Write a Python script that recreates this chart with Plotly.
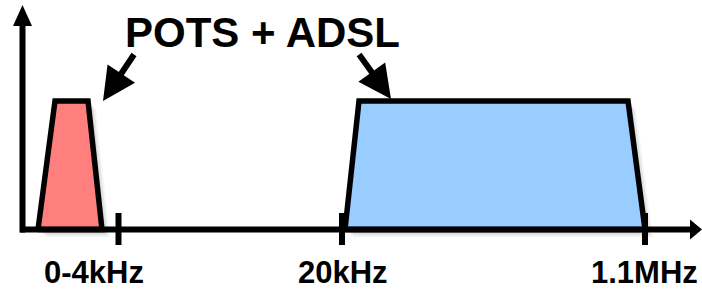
import plotly.graph_objects as go

W, H = 702, 291

# ---- data (diagram units: x in px-like frequency scale, y = height above canvas bottom)
band_names = ["POTS", "ADSL"]
band_bottom_lo = [38, 345]
band_bottom_hi = [102, 645]
band_top_lo = [55, 359]
band_top_hi = [88, 628]
band_colors = ["#FF7F7F", "#99CCFF"]
band_level = 190          # top of the bands
axis_level = 61.5         # frequency axis height

tick_positions = [118.5, 342, 645]
tick_labels = ["0-4kHz", "20kHz", "1.1MHz"]
label_positions = [94, 343, 644]

title_text = "POTS + ADSL"
pointer_tail = [(135, 238), (358, 238)]
pointer_head = [(103, 190), (391, 192)]

fig = go.Figure()

# soft shadows
for off, a in [(8, 0.04), (6, 0.06), (4, 0.08), (2, 0.08)]:
    for i in range(len(band_names)):
        xs = [band_bottom_lo[i] + off, band_top_lo[i] + off, band_top_hi[i] + off,
              band_bottom_hi[i] + off, band_bottom_lo[i] + off]
        ys = [axis_level - off, band_level - off, band_level - off,
              axis_level - off, axis_level - off]
        fig.add_trace(go.Scatter(x=xs, y=ys, mode="lines", fill="toself",
                                 fillcolor=f"rgba(0,0,0,{a})", line=dict(width=0),
                                 hoverinfo="skip", showlegend=False))

# bands
for i, name in enumerate(band_names):
    xs = [band_bottom_lo[i], band_top_lo[i], band_top_hi[i], band_bottom_hi[i], band_bottom_lo[i]]
    ys = [axis_level, band_level, band_level, axis_level, axis_level]
    fig.add_trace(go.Scatter(x=xs, y=ys, mode="lines", fill="toself",
                             fillcolor=band_colors[i], line=dict(color="black", width=5.5),
                             name=name, hoverinfo="skip", showlegend=False))

shapes = []
# axes
shapes.append(dict(type="line", x0=22.5, x1=22.5, y0=axis_level - 3, y1=267,
                   xref="x", yref="y", line=dict(color="black", width=6)))
shapes.append(dict(type="line", x0=20, x1=692, y0=axis_level, y1=axis_level,
                   xref="x", yref="y", line=dict(color="black", width=6)))
# arrowheads on axes
shapes.append(dict(type="path", path="M 13,265 L 32,265 L 22.5,286 Z",
                   xref="x", yref="y", fillcolor="black", line=dict(width=0)))
shapes.append(dict(type="path",
                   path=f"M 690,{axis_level+10} L 690,{axis_level-10} L 702,{axis_level} Z",
                   xref="x", yref="y", fillcolor="black", line=dict(width=0)))
# ticks
for tx in tick_positions:
    shapes.append(dict(type="line", x0=tx, x1=tx, y0=46, y1=78,
                       xref="x", yref="y", line=dict(color="black", width=6)))

annotations = []
annotations.append(dict(x=262, y=259, text=f"<b>{title_text}</b>", showarrow=False,
                        xref="x", yref="y", font=dict(family="Liberation Sans, Arial", size=42, color="black")))
for lx, lt in zip(label_positions, tick_labels):
    annotations.append(dict(x=lx, y=0, yanchor="bottom", text=f"<b>{lt}</b>", showarrow=False,
                            xref="x", yref="y", borderpad=0,
                            font=dict(family="Liberation Sans, Arial", size=31, color="black")))
for (tx, ty), (hx, hy) in zip(pointer_tail, pointer_head):
    annotations.append(dict(x=hx, y=hy, ax=tx, ay=ty, axref="x", ayref="y",
                            xref="x", yref="y", showarrow=True, arrowhead=2,
                            arrowsize=1.1, arrowwidth=6, arrowcolor="black", text=""))

fig.update_layout(
    width=W, height=H, margin=dict(l=0, r=0, t=0, b=0),
    paper_bgcolor="white", plot_bgcolor="white",
    xaxis=dict(range=[0, W], visible=False, fixedrange=True),
    yaxis=dict(range=[0, H], visible=False, fixedrange=True),
    shapes=shapes, annotations=annotations, showlegend=False,
)

fig.write_html("out.html", config={"staticPlot": True},
               post_script="document.body.style.margin='0';document.body.style.overflow='hidden';")
